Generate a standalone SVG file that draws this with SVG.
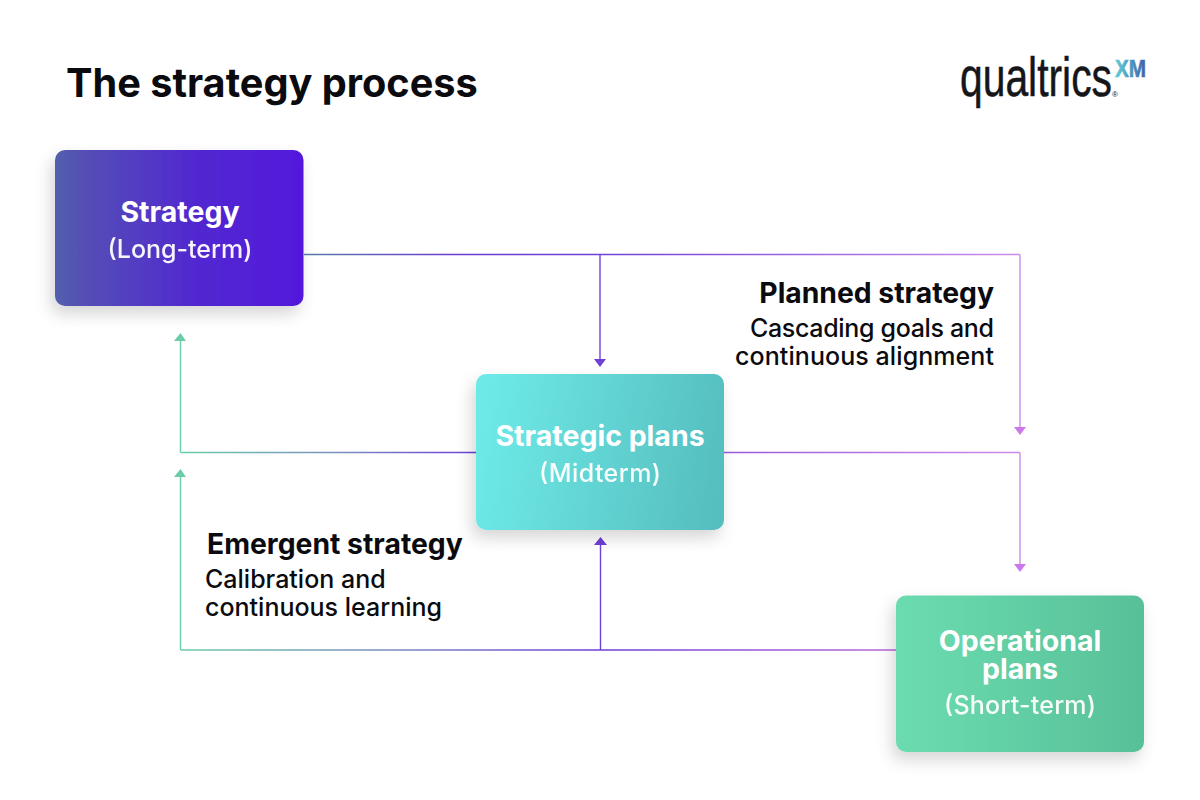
<svg xmlns="http://www.w3.org/2000/svg" width="1200" height="800" viewBox="0 0 1200 800">
<style>
text{font-family:"Inter","Liberation Sans",sans-serif}
.h{font-size:28.5px;font-weight:700;fill:#fff;text-anchor:middle}
.s{font-size:25px;font-weight:500;fill:#fff;text-anchor:middle;opacity:.95}
.bh{font-size:28.3px;font-weight:700;fill:#0b0b0f}
.bs{font-size:25px;font-weight:500;fill:#0b0b0f}
.c{fill:none;stroke-width:1.4}
.logo{font-family:"Liberation Sans",sans-serif}
</style>
<defs>
<linearGradient id="g1" x1="0" x2="1" y1="0" y2="0"><stop offset="0" stop-color="#5260ad"/><stop offset=".1" stop-color="#5450b4"/><stop offset=".55" stop-color="#5129d0"/><stop offset="1" stop-color="#5318dc"/></linearGradient>
<linearGradient id="g2" x1="0" x2="1" y1="0.45" y2="0.55"><stop offset="0" stop-color="#6deae8"/><stop offset="1" stop-color="#56bebe"/></linearGradient>
<linearGradient id="g3" x1="0" x2="1" y1="0" y2="0"><stop offset="0" stop-color="#6cdcb0"/><stop offset="1" stop-color="#58c098"/></linearGradient>
<linearGradient id="l1" gradientUnits="userSpaceOnUse" x1="304" y1="0" x2="600" y2="0"><stop offset="0" stop-color="#5a7ca8"/><stop offset=".5" stop-color="#6a3cd2"/><stop offset="1" stop-color="#6f3fd8"/></linearGradient>
<linearGradient id="l2" gradientUnits="userSpaceOnUse" x1="600" y1="0" x2="1020" y2="0"><stop offset="0" stop-color="#7040d8"/><stop offset="1" stop-color="#cc8ce8"/></linearGradient>
<linearGradient id="l3" gradientUnits="userSpaceOnUse" x1="180" y1="0" x2="476" y2="0"><stop offset="0" stop-color="#6ccca8"/><stop offset=".55" stop-color="#7a8cc0"/><stop offset="1" stop-color="#6f3fd8"/></linearGradient>
<linearGradient id="l4" gradientUnits="userSpaceOnUse" x1="180" y1="0" x2="600" y2="0"><stop offset="0" stop-color="#6ccca8"/><stop offset=".5" stop-color="#7a8cc0"/><stop offset="1" stop-color="#6f3fd8"/></linearGradient>
<linearGradient id="l5" gradientUnits="userSpaceOnUse" x1="600" y1="0" x2="896" y2="0"><stop offset="0" stop-color="#6f3fd8"/><stop offset="1" stop-color="#b868d8"/></linearGradient>
<linearGradient id="l6" gradientUnits="userSpaceOnUse" x1="724" y1="0" x2="1020" y2="0"><stop offset="0" stop-color="#9a58d8"/><stop offset="1" stop-color="#cc8ce8"/></linearGradient>
<linearGradient id="xm" x1="0" x2="1" y1="0" y2="0"><stop offset="0" stop-color="#5fd0d8"/><stop offset="1" stop-color="#3e5fa8"/></linearGradient>
<filter id="sh" x="-20%" y="-20%" width="140%" height="150%"><feDropShadow dx="-4" dy="8" stdDeviation="8" flood-color="#000" flood-opacity=".16"/></filter>
</defs>
<rect width="1200" height="800" fill="#fff"/>
<text x="66" y="96.500" font-size="39.7" font-weight="700" fill="#0b0b0f">The strategy process</text>
<g id="logo">
<text class="logo" x="960" y="96" font-size="55" fill="#15151a" stroke="#15151a" stroke-width=".5" textLength="152" lengthAdjust="spacingAndGlyphs">qualtrics</text>
<text class="logo" x="1115" y="77" font-size="23" font-weight="700" fill="url(#xm)" stroke="url(#xm)" stroke-width=".6" textLength="31" lengthAdjust="spacingAndGlyphs">XM</text>
<text class="logo" x="1112" y="97" font-size="8" fill="#15151a">®</text>
</g>
<g id="connectors">
<path class="c" stroke="url(#l1)" d="M304 254.500H600"/>
<path class="c" stroke="url(#l2)" d="M600 254.500H1020"/>
<path class="c" stroke="#cc8ce8" d="M1020 254.500V427"/>
<path class="c" stroke="#6f3fd8" d="M600 254.500V360"/>
<path class="c" stroke="url(#l3)" d="M476 452.500H180.500"/>
<path class="c" stroke="#6ccca8" d="M180.500 452.500V340"/>
<path class="c" stroke="url(#l6)" d="M724 452.500H1020"/>
<path class="c" stroke="#cc8ce8" d="M1020 452.500V564"/>
<path class="c" stroke="url(#l5)" d="M896 650H600"/>
<path class="c" stroke="url(#l4)" d="M600 650H180.500"/>
<path class="c" stroke="#6ccca8" d="M180.500 650V476"/>
<path class="c" stroke="#6f3fd8" d="M600.500 650V544"/>
<polygon fill="#6f3fd8" points="594,359 606,359 600,367"/>
<polygon fill="#cc78ec" points="1014,427 1026,427 1020,435"/>
<polygon fill="#cc78ec" points="1014,564 1026,564 1020,572"/>
<polygon fill="#6ccca8" points="174,341 186,341 180.500,333"/>
<polygon fill="#6ccca8" points="174,477 186,477 180.500,469"/>
<polygon fill="#6f3fd8" points="594,545 607,545 600.500,537"/>
</g>
<g id="strategy">
<rect x="55" y="150" width="248.500" height="156" rx="10" fill="url(#g1)" filter="url(#sh)"/>
<text class="h" x="180" y="222">Strategy</text>
<text class="s" x="180" y="258">(Long-term)</text>
</g>
<g id="strategic-plans">
<rect x="476" y="374" width="248" height="156" rx="10" fill="url(#g2)" filter="url(#sh)"/>
<text class="h" x="600" y="446">Strategic plans</text>
<text class="s" x="600" y="482" textLength="122">(Midterm)</text>
</g>
<g id="operational-plans">
<rect x="896" y="595.500" width="248" height="156.500" rx="10" fill="url(#g3)" filter="url(#sh)"/>
<text class="h" x="1020" y="651">Operational</text>
<text class="h" x="1020" y="679">plans</text>
<text class="s" x="1020" y="714" textLength="152">(Short-term)</text>
</g>
<g id="planned-label">
<text class="bh" x="994" y="303" text-anchor="end">Planned strategy</text>
<text class="bs" x="994" y="337" text-anchor="end" textLength="244">Cascading goals and</text>
<text class="bs" x="994" y="365" text-anchor="end" textLength="259">continuous alignment</text>
</g>
<g id="emergent-label">
<text class="bh" x="207" y="554">Emergent strategy</text>
<text class="bs" x="205" y="588">Calibration and</text>
<text class="bs" x="205" y="616">continuous learning</text>
</g>
</svg>
